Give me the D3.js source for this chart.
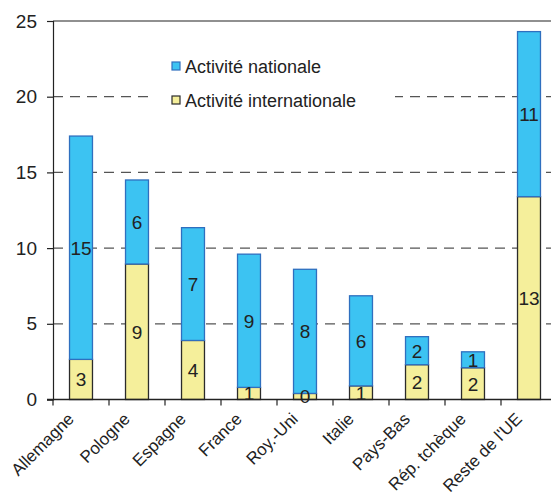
<!DOCTYPE html>
<html>
<head>
<meta charset="utf-8">
<script src="https://cdn.jsdelivr.net/npm/d3@7"></script>
<style>
  body { margin: 0; background: #fff; }
  svg { display: block; font-family: "Liberation Sans", Arial, sans-serif; }
</style>
</head>
<body>
<svg id="chart" width="551" height="499"></svg>
<script>
// pays / groupes
let categories = ["Allemagne", "Pologne", "Espagne", "France", "Roy.-Uni", "Italie", "Pays-Bas", "Rép. tchèque", "Reste de l'UE"]
let international = [2.65, 8.95, 3.9, 0.8, 0.4, 0.9, 2.3, 2.1, 13.4]
let national = [14.75, 5.55, 7.45, 8.8, 8.2, 5.95, 1.85, 1.05, 10.9]
let yTicks = [0, 5, 10, 15, 20, 25]
let seriesNames = ["Activité nationale", "Activité internationale"]

let svg = d3.select("#chart")
let x0 = 53, x1 = 53 + 9 * 56
let yTop = 21, yBottom = 399.5

let x = d3.scaleBand().domain(categories).range([x0, x1]).paddingInner(0.59).paddingOuter(0.295)
let y = d3.scaleLinear().domain([0, 25]).range([yBottom, yTop])

// gridlines
svg.append("g")
  .selectAll("line")
  .data(yTicks.filter(d => d > 0 && d < 25))
  .join("line")
  .attr("x1", x0).attr("x2", 551)
  .attr("y1", d => y(d)).attr("y2", d => y(d))
  .attr("stroke", "#555")
  .attr("stroke-width", 1.2)
  .attr("stroke-dasharray", "10,7")

// top frame
svg.append("line")
  .attr("x1", x0).attr("x2", 551)
  .attr("y1", y(25)).attr("y2", y(25))
  .attr("stroke", "#222").attr("stroke-width", 1.2)

// legend box (white background hides gridline)
svg.append("rect")
  .attr("x", 152).attr("y", 42).attr("width", 243).attr("height", 76)
  .attr("fill", "#fff")

let stacked = categories.map((c, i) => ({ c: c, intl: international[i], nat: national[i] }))

let bars = svg.append("g")
bars.selectAll(".intl")
  .data(stacked)
  .join("rect")
  .attr("class", "intl")
  .attr("x", d => x(d.c))
  .attr("width", x.bandwidth())
  .attr("y", d => y(d.intl))
  .attr("height", d => y(0) - y(d.intl))
  .attr("fill", "#f5ef9b")
  .attr("stroke", "#2b2b2b")
  .attr("stroke-width", 1.3)

bars.selectAll(".nat")
  .data(stacked)
  .join("rect")
  .attr("class", "nat")
  .attr("x", d => x(d.c))
  .attr("width", x.bandwidth())
  .attr("y", d => y(d.intl + d.nat))
  .attr("height", d => y(d.intl) - y(d.intl + d.nat))
  .attr("fill", "#3cc3f2")
  .attr("stroke", "#2f6fbf")
  .attr("stroke-width", 1.3)

// segment labels
let labels = svg.append("g")
  .attr("font-size", 19)
  .attr("fill", "#222")
  .attr("text-anchor", "middle")
labels.selectAll(".li")
  .data(stacked)
  .join("text")
  .attr("x", d => x(d.c) + x.bandwidth() / 2)
  .attr("y", d => y(d.intl / 2) + 7)
  .text(d => Math.round(d.intl))
labels.selectAll(".ln")
  .data(stacked)
  .join("text")
  .attr("x", d => x(d.c) + x.bandwidth() / 2)
  .attr("y", d => y(d.intl + d.nat / 2) + 7)
  .text(d => Math.round(d.nat))

// y axis
let yAxis = svg.append("g")
  .attr("transform", "translate(" + x0 + ",0)")
  .call(d3.axisLeft(y).tickValues(yTicks).tickSize(6).tickPadding(10))
yAxis.select(".domain").attr("stroke", "#222").attr("stroke-width", 1.2)
yAxis.selectAll(".tick line").attr("stroke", "#222").attr("stroke-width", 1.2)
yAxis.selectAll("text").attr("font-size", 19).attr("fill", "#222")
  .attr("font-family", "Liberation Sans, Arial, sans-serif")

// x axis
svg.append("line")
  .attr("x1", x0 - 6).attr("x2", 551)
  .attr("y1", yBottom).attr("y2", yBottom)
  .attr("stroke", "#222").attr("stroke-width", 1.5)

// ticks between categories
svg.append("g")
  .selectAll("line")
  .data(categories)
  .join("line")
  .attr("x1", d => x(d) - x.step() * x.paddingInner() / 2)
  .attr("x2", d => x(d) - x.step() * x.paddingInner() / 2)
  .attr("y1", yBottom).attr("y2", yBottom + 6)
  .attr("stroke", "#222").attr("stroke-width", 1.2)

svg.append("g")
  .selectAll("text")
  .data(categories)
  .join("text")
  .attr("transform", d => "translate(" + (x(d) + x.bandwidth() / 2 - 6) + "," + 420 + ") rotate(-45)")
  .attr("text-anchor", "end")
  .attr("font-size", 17)
  .attr("fill", "#222")
  .text(d => d)

// legend
let legend = svg.append("g")
let legColors = [["#3cc3f2", "#2f6fbf"], ["#f5ef9b", "#2b2b2b"]]
seriesNames.forEach((name, i) => {
  let ly = 67 + i * 34
  legend.append("rect")
    .attr("x", 172).attr("y", ly - 5)
    .attr("width", 8).attr("height", 8)
    .attr("fill", legColors[i][0])
    .attr("stroke", legColors[i][1])
    .attr("stroke-width", 1.2)
  legend.append("text")
    .attr("x", 185).attr("y", ly + 6)
    .attr("font-size", 18)
    .attr("fill", "#222")
    .text(name)
})
</script>
</body>
</html>
